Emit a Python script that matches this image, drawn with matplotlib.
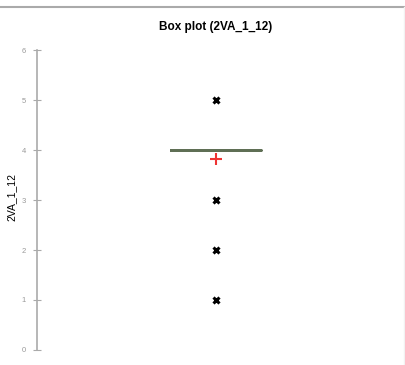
import matplotlib
matplotlib.use('Agg')
import matplotlib.pyplot as plt
from matplotlib.lines import Line2D

plt.rcParams['font.family'] = ['Liberation Sans', 'DejaVu Sans']

# box plot summary
variable = '2VA_1_12'
median = 4.0
q1 = 4.0
q3 = 4.0
whisker_low = 4.0
whisker_high = 4.0
mean = 3.82
outliers = [1, 2, 3, 5]
y_ticks = [0, 1, 2, 3, 4, 5, 6]

fig = plt.figure(figsize=(4.06, 3.65), dpi=100)
ax = fig.add_axes([37 / 406, 15 / 365, 358 / 406, 300 / 365])

stats = [{
    'med': median, 'q1': q1, 'q3': q3,
    'whislo': whisker_low, 'whishi': whisker_high,
    'mean': mean, 'fliers': outliers, 'label': variable,
}]
ax.bxp(stats, positions=[0.5], widths=0.2514, showmeans=True,
       boxprops=dict(color='#5f6f55', linewidth=1.8),
       medianprops=dict(color='#5f6f55', linewidth=1.8),
       whiskerprops=dict(color='#5f6f55', linewidth=1.8),
       capprops=dict(linewidth=0),
       flierprops=dict(marker='x', markeredgecolor='black', markersize=5, markeredgewidth=2.2),
       meanprops=dict(marker='+', markeredgecolor='#ee3333', markersize=9, markeredgewidth=1.5))

ax.set_xlim(0, 1)
ax.set_ylim(0, 6)
ax.set_yticks(y_ticks)
ax.set_yticklabels([str(t) for t in y_ticks], color='#999999', fontsize=5.5)
ax.set_xticks([])
for s in ['top', 'right', 'bottom']:
    ax.spines[s].set_visible(False)
ax.spines['left'].set_color('#aaaaaa')
ax.spines['left'].set_linewidth(1.2)
ax.tick_params(axis='y', direction='inout', length=6, color='#aaaaaa', pad=5)
ax.set_ylabel(variable, fontsize=7.5)
ax.yaxis.set_label_coords(-0.057, 0.51)

fig.text(216 / 406, 1 - 27 / 365, 'Box plot (' + variable + ')', ha='center', va='center',
         fontsize=8.5, fontweight='bold')

# window frame lines
fig.add_artist(Line2D([0, 1], [1 - 7 / 365, 1 - 7 / 365], color='#aaaaaa', linewidth=1.5))
fig.add_artist(Line2D([1 - 1.5 / 406, 1 - 1.5 / 406], [0, 1 - 7 / 365], color='#f2f2f2', linewidth=1))

fig.savefig('out.png', dpi=100)
